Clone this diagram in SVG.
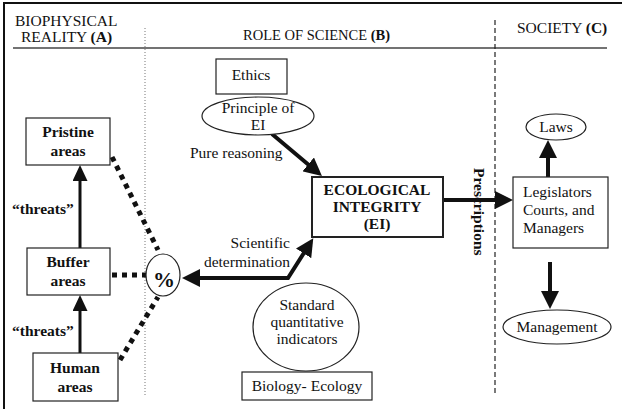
<svg xmlns="http://www.w3.org/2000/svg" width="622" height="409" viewBox="0 0 622 409">
  <style>
    text { font-family: "Liberation Serif", "Times New Roman", serif; font-size: 15.5px; fill: #111; }
    .b { font-weight: bold; }
    .mid { text-anchor: middle; }
    .box { fill: #fff; stroke: #222; stroke-width: 1.2; }
    .thick { fill: none; stroke: #111; stroke-width: 4; }
    .thin { fill: none; stroke: #111; stroke-width: 3; }
    .dots { fill: none; stroke: #111; stroke-width: 5; stroke-dasharray: 5 5; }
  </style>
  <defs>
    <marker id="head" viewBox="0 0 18 18" refX="2" refY="9" markerWidth="18" markerHeight="18" markerUnits="userSpaceOnUse" orient="auto-start-reverse">
      <path d="M0,0 L18,9 L0,18 z" fill="#111"/>
    </marker>
    <marker id="headS" viewBox="0 0 16 15" refX="2" refY="7.5" markerWidth="16" markerHeight="15" markerUnits="userSpaceOnUse" orient="auto">
      <path d="M0,0 L16,7.5 L0,15 z" fill="#111"/>
    </marker>
  </defs>
  <rect width="622" height="409" fill="#fff"/>

  <!-- frame and column dividers -->
  <g id="frame">
    <path d="M4,409 V3 H622" fill="none" stroke="#111" stroke-width="2"/>
    <line x1="13" y1="48" x2="607" y2="48" stroke="#444" stroke-width="1.5"/>
    <line x1="145" y1="28" x2="145" y2="395" stroke="#777" stroke-width="1" stroke-dasharray="1 2"/>
    <line x1="495" y1="20" x2="495" y2="394" stroke="#222" stroke-width="1.2" stroke-dasharray="5 3"/>
  </g>

  <!-- column headings -->
  <g id="headings">
    <text x="15" y="26">BIOPHYSICAL</text>
    <text x="21" y="42">REALITY <tspan class="b">(A)</tspan></text>
    <text x="243" y="40" style="font-size:14.5px">ROLE OF SCIENCE <tspan class="b">(B)</tspan></text>
    <text x="517" y="33">SOCIETY <tspan class="b">(C)</tspan></text>
  </g>

  <!-- connectors -->
  <g id="connectors">
    <line class="thin" x1="80" y1="248" x2="80" y2="179" marker-end="url(#headS)"/>
    <line class="thin" x1="80" y1="353" x2="80" y2="309" marker-end="url(#headS)"/>
    <line class="dots" x1="112" y1="157" x2="158" y2="250"/>
    <line class="dots" x1="112" y1="275" x2="147" y2="275"/>
    <line class="dots" x1="120" y1="360" x2="158" y2="297"/>
    <line class="thick" x1="272" y1="134" x2="309.7" y2="165.7" marker-end="url(#head)"/>
    <polyline class="thick" points="198,278 288,278 304.7,251.7" marker-start="url(#head)" marker-end="url(#head)"/>
    <line class="thick" x1="443" y1="200" x2="497" y2="200" marker-end="url(#head)"/>
    <line class="thick" x1="548" y1="177" x2="548" y2="156" marker-end="url(#head)"/>
    <line class="thick" x1="550" y1="262" x2="550" y2="293" marker-end="url(#head)"/>
  </g>

  <!-- connector labels -->
  <g id="labels">
    <text class="b" x="12" y="214">“threats”</text>
    <text class="b" x="12" y="336">“threats”</text>
    <text x="190" y="158">Pure reasoning</text>
    <text x="290" y="248" text-anchor="end">Scientific</text>
    <text x="290" y="267" text-anchor="end">determination</text>
    <text class="b" x="474" y="168" transform="rotate(90 474 168)">Prescriptions</text>
  </g>

  <!-- biophysical reality -->
  <g id="pristine">
    <rect class="box" x="26" y="118" width="84" height="47"/>
    <text class="b mid" x="68" y="137">Pristine</text>
    <text class="b mid" x="68" y="156">areas</text>
  </g>
  <g id="buffer">
    <rect class="box" x="27" y="248" width="83" height="47"/>
    <text class="b mid" x="68" y="267">Buffer</text>
    <text class="b mid" x="68" y="286">areas</text>
  </g>
  <g id="human">
    <rect class="box" x="33" y="353" width="85" height="48"/>
    <text class="b mid" x="75" y="373">Human</text>
    <text class="b mid" x="75" y="392">areas</text>
  </g>
  <g id="percent">
    <ellipse class="box" cx="163" cy="275" rx="17" ry="21"/>
    <text class="b mid" x="164" y="287" style="font-size:22px">%</text>
  </g>

  <!-- role of science -->
  <g id="ethics">
    <rect class="box" x="216" y="59" width="71" height="35"/>
    <text class="mid" x="251" y="80">Ethics</text>
  </g>
  <g id="principle">
    <ellipse class="box" cx="258" cy="116" rx="56" ry="19"/>
    <text class="mid" x="258" y="113">Principle of</text>
    <text class="mid" x="258" y="130">EI</text>
  </g>
  <g id="integrity">
    <rect class="box" x="312" y="177" width="131" height="60" style="stroke-width:2"/>
    <text class="b mid" x="377" y="195">ECOLOGICAL</text>
    <text class="b mid" x="377" y="212">INTEGRITY</text>
    <text class="b mid" x="377" y="229">(EI)</text>
  </g>
  <g id="indicators">
    <ellipse class="box" cx="306" cy="327" rx="53" ry="44"/>
    <text class="mid" x="307" y="310">Standard</text>
    <text class="mid" x="307" y="327">quantitative</text>
    <text class="mid" x="307" y="344">indicators</text>
  </g>
  <g id="biology">
    <rect class="box" x="242" y="372" width="130" height="28"/>
    <text class="mid" x="307" y="391">Biology- Ecology</text>
  </g>

  <!-- society -->
  <g id="laws">
    <ellipse class="box" cx="556" cy="127" rx="30" ry="13"/>
    <text class="mid" x="556" y="132">Laws</text>
  </g>
  <g id="legislators">
    <rect class="box" x="513" y="177" width="95" height="71"/>
    <text x="523" y="197">Legislators</text>
    <text x="523" y="215">Courts, and</text>
    <text x="523" y="233">Managers</text>
  </g>
  <g id="management">
    <ellipse class="box" cx="557" cy="327" rx="54" ry="17"/>
    <text class="mid" x="557" y="332">Management</text>
  </g>
</svg>
